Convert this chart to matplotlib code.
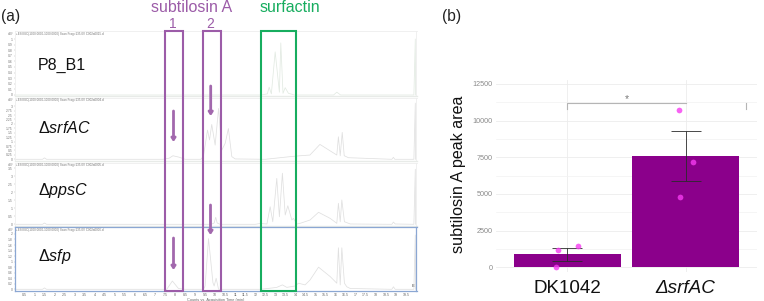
import matplotlib
matplotlib.use("Agg")
import matplotlib.pyplot as plt
from matplotlib.patches import Rectangle

plt.rcParams['font.family'] = ['Liberation Sans', 'DejaVu Sans']
plt.rcParams['mathtext.fontset'] = 'custom'
plt.rcParams['mathtext.rm'] = 'Liberation Sans'
plt.rcParams['mathtext.it'] = 'Liberation Sans:italic'
plt.rcParams['mathtext.default'] = 'regular'

W, H = 764, 301

# ---------- data: panel (a) chromatograms ----------
t_p8 = [0.05, 12.3, 12.6, 12.69, 12.8, 12.99, 13.2, 13.27, 13.38, 13.49, 13.65, 13.95, 14.3, 15.9, 16.06, 16.25, 19.9, 19.97, 19.98]
v_p8 = [0.0, 0.0, 0.02, 0.14, 0.02, 0.77, 0.05, 0.93, 0.03, 0.13, 0.03, 0.0, 0.0, 0.0, 0.05, 0.0, 0.0, 1.0, 0.0]

t_srf = [0.05, 1.4, 1.5, 1.6, 7.4, 7.7, 7.9, 8.2, 8.5, 9.3, 9.42, 9.62, 9.72, 9.83, 10.0, 10.17, 10.33, 10.5, 10.66, 10.83, 11.0, 12.5, 13.74, 14.23, 14.72, 15.22, 16.06, 16.14, 16.23, 16.33, 16.43, 16.64, 18.8, 18.88, 18.95, 19.9, 19.97, 19.98]
v_srf = [0.0, 0.0, 0.08, 0.0, 0.0, 0.06, 0.2, 0.12, 0.0, 0.0, 0.2, 1.65, 1.09, 1.97, 0.8, 2.87, 0.52, 0.9, 1.74, 0.15, 0.02, 0.0, 0.15, 0.2, 0.24, 0.84, 0.24, 1.27, 0.2, 1.52, 0.2, 0.09, 0.0, 0.11, 0.0, 0.0, 3.17, 0.0]

t_pps = [0.05, 1.4, 1.5, 1.6, 9.8, 9.95, 10.03, 10.1, 10.25, 12.0, 12.24, 12.58, 12.74, 12.87, 13.07, 13.2, 13.35, 13.49, 13.62, 13.82, 13.9, 14.07, 14.23, 14.73, 15.15, 15.73, 16.06, 16.14, 16.23, 16.31, 16.44, 16.73, 18.8, 18.88, 18.97, 19.9, 19.97, 19.98]
v_pps = [0.0, 0.0, 0.08, 0.0, 0.0, 0.08, 0.44, 0.08, 0.0, 0.0, 0.05, 0.02, 1.1, 0.16, 2.87, 0.47, 3.19, 0.58, 1.16, 0.27, 0.37, 0.02, 0.06, 0.27, 0.75, 0.37, 0.06, 1.31, 0.16, 1.52, 0.16, 0.02, 0.0, 0.14, 0.02, 0.0, 3.44, 0.0]

t_sfp = [0.05, 1.4, 1.5, 1.6, 7.59, 7.87, 8.17, 8.5, 9.3, 9.42, 9.5, 9.67, 9.89, 9.95, 10.05, 10.17, 10.5, 12.24, 12.74, 13.07, 13.35, 13.57, 13.98, 14.15, 14.48, 14.73, 15.15, 15.73, 16.06, 16.14, 16.23, 16.31, 16.44, 16.56, 16.73, 18.8, 18.88, 18.97, 19.9, 19.97, 19.98]
v_sfp = [0.0, 0.0, 0.05, 0.0, 0.0, 0.3, 0.03, 0.0, 0.0, 0.0, 0.12, 1.83, 0.24, 0.12, 0.4, 0.0, 0.0, 0.0, 0.04, 0.07, 0.16, 0.07, 0.12, 0.22, 0.16, 0.34, 0.8, 0.46, 0.22, 1.5, 0.16, 1.5, 0.22, 0.09, 0.03, 0.0, 0.09, 0.0, 0.0, 1.96, 0.0]

strain_labels = ['P8_B1', 'Δ$\\mathit{srfAC}$', 'Δ$\\mathit{ppsC}$', 'Δ$\\mathit{sfp}$']
yticks_p8 = [0, 0.1, 0.2, 0.3, 0.4, 0.5, 0.6, 0.7, 0.8, 0.9, 1]
yticks_srf = [0, 0.25, 0.5, 0.75, 1, 1.25, 1.5, 1.75, 2, 2.25, 2.5, 2.75, 3]
yticks_pps = [0, 0.5, 1, 1.5, 2, 2.5, 3, 3.5]
yticks_sfp = [0, 0.2, 0.4, 0.6, 0.8, 1, 1.2, 1.4, 1.6, 1.8, 2]
xticks_time = [0.5 * k for k in range(1, 40)]
headers = ['+ESI EIC(1000.0000-1000.0000) Scan Frag=135.0V C002a0015.d',
           '+ESI EIC(1000.0000-1000.0000) Scan Frag=135.0V C002a0004.d',
           '+ESI EIC(1000.0000-1000.0000) Scan Frag=135.0V C002a0005.d',
           '+ESI EIC(1000.0000-1000.0000) Scan Frag=135.0V C002a0006.d']

# ---------- data: panel (b) ----------
strains = ['DK1042', 'ΔsrfAC']
means = [886, 7590]
err_low = [432, 5864]
err_high = [1295, 9318]
pts_x = [-0.093, -0.078, 0.093, 0.941, 1.059, 0.951]
pts_y = [20, 1180, 1430, 10727, 7205, 4818]

fig = plt.figure(figsize=(W / 100, H / 100), dpi=100)


def px_axes(x0, y0, x1, y1, **kw):
    return fig.add_axes([x0 / W, 1 - y1 / H, (x1 - x0) / W, (y1 - y0) / H], **kw)


# ---------- panel (a) ----------
panels = [
    (31, 96, (-0.018, 1.143), t_p8, v_p8, yticks_p8, '#e2eae2'),
    (98, 160.5, (-0.068, 3.46), t_srf, v_srf, yticks_srf, '#e0e0e0'),
    (163, 225.5, (-0.075, 3.83), t_pps, v_pps, yticks_pps, '#e0e0e0'),
    (227, 291, (-0.061, 2.25), t_sfp, v_sfp, yticks_sfp, '#e0e0e0'),
]
label_y = [65, 128, 190.7, 257]
header_y = [34, 100, 164.8, 230]
for i, (y0, y1, yl, tt, vv, yt, col) in enumerate(panels):
    ax = px_axes(15, y0, 416.5, y1)
    ax.patch.set_alpha(0)
    ax.plot(tt, vv, color=col, lw=0.55)
    ax.set_xlim(0.03, 20.03)
    ax.set_ylim(*yl)
    ax.set_yticks(yt)
    ax.set_yticklabels(['%g' % v for v in yt], fontsize=2.4, color='#777777')
    ax.tick_params(axis='y', length=1, width=0.3, color='#aaaaaa', pad=0.6)
    last = i == 3
    edge = '#8ba7d3' if last else '#eeeeee'
    for s in ax.spines.values():
        s.set_color(edge)
        s.set_linewidth(0.9 if last else 0.6)
    if not last:
        ax.spines['bottom'].set_linewidth(1.0)
        ax.spines['bottom'].set_color('#e8ebe8')
    if last:
        ax.set_xticks(xticks_time)
        ax.set_xticklabels(['%g' % v for v in xticks_time], fontsize=2.6, color='#666666')
        ax.tick_params(axis='x', length=1, width=0.3, color='#aaaaaa', pad=0.8)
        ax.set_xlabel('Counts vs. Acquisition Time (min)', fontsize=2.8, color='#666666', labelpad=0.4)
        ax.text(19.88, 0.03, 'E', fontsize=3, color='#444444', ha='center', va='bottom')
    else:
        ax.set_xticks([])

ov = px_axes(0, 0, W, H)
ov.set_xlim(0, W)
ov.set_ylim(H, 0)
ov.axis('off')
ov.patch.set_alpha(0)

for hy, head in zip(header_y, headers):
    ov.text(13.5, hy, 'x10⁷', fontsize=2.2, color='#777777', ha='right', va='center')
    ov.text(16.5, hy, head, fontsize=2.2, color='#777777', ha='left', va='center')

PURPLE = '#9c5ca8'
GREEN = '#17ad5f'
ov.add_patch(Rectangle((165, 31), 17.7, 260, fill=False, ec=PURPLE, lw=1.5))
ov.add_patch(Rectangle((202.5, 31), 18, 260, fill=False, ec=PURPLE, lw=1.5))
ov.add_patch(Rectangle((260.7, 31), 35.3, 260, fill=False, ec=GREEN, lw=1.5))

for x, ya, yb in [(173.5, 111, 142), (210.7, 86, 116), (210.5, 205, 235), (173.5, 238, 270)]:
    ov.annotate('', xy=(x, yb), xytext=(x, ya),
                arrowprops=dict(arrowstyle='-|>,head_width=0.12,head_length=0.18',
                                color='#a268ad', lw=2.0, shrinkA=0, shrinkB=0))

ov.text(191.5, 7, 'subtilosin A', color=PURPLE, fontsize=11.5, ha='center', va='center')
ov.text(173, 23.5, '1', color=PURPLE, fontsize=10, ha='center', va='center')
ov.text(210.5, 23.5, '2', color=PURPLE, fontsize=10, ha='center', va='center')
ov.text(289.5, 7, 'surfactin', color=GREEN, fontsize=11.5, ha='center', va='center')
ov.text(1, 16, '(a)', color='#222222', fontsize=11.2, ha='left', va='center')
ov.text(442, 16, '(b)', color='#222222', fontsize=11.2, ha='left', va='center')
for lab, y in zip(strain_labels, label_y):
    ov.text(38, y, lab, color='#111111', fontsize=11.5, ha='left', va='center')

# ---------- panel (b) ----------
axb = px_axes(496.3, 80, 756.8, 271.7)
axb.set_xlim(-0.6, 1.6)
axb.set_ylim(-300, 12770)
axb.set_axisbelow(True)
for s in axb.spines.values():
    s.set_visible(False)
axb.set_yticks([0, 2500, 5000, 7500, 10000, 12500])
axb.set_yticks([1250, 3750, 6250, 8750, 11250], minor=True)
axb.set_xticks([0, 1])
axb.grid(True, which='major', color='#ececec', lw=0.6)
axb.grid(True, which='minor', axis='y', color='#f2f2f2', lw=0.5)
axb.tick_params(which='both', length=0)
axb.tick_params(axis='y', labelsize=5.2, labelcolor='#8a8a8a', pad=2.5)
axb.bar([0, 1], means, width=0.9, color='#8b008b', zorder=2)
axb.errorbar([0, 1], means,
             yerr=[[m - l for m, l in zip(means, err_low)], [h - m for m, h in zip(means, err_high)]],
             fmt='none', ecolor='#2b2b2b', elinewidth=0.6, capsize=10.6, capthick=0.6, zorder=3)
axb.scatter(pts_x, pts_y, s=17, color='#f53cf0', alpha=0.8, linewidths=0, zorder=4, clip_on=False)
axb.plot([0, 0, 1], [10790, 11220, 11220], color='#b5b5b5', lw=0.8, zorder=2)
axb.plot([1.507, 1.507], [10790, 11220], color='#b5b5b5', lw=0.8, zorder=2)
axb.text(0.5, 11480, '*', color='#777777', fontsize=7.5, ha='center', va='center')
axb.set_xticklabels(strains, fontsize=13.6, color='#111111')
axb.get_xticklabels()[1].set_fontstyle('italic')
axb.tick_params(axis='x', pad=6)
ov.text(458, 174.5, 'subtilosin A peak area', rotation=90, color='#111111', fontsize=11.6,
        ha='center', va='center')

fig.savefig('out.png', dpi=100)
